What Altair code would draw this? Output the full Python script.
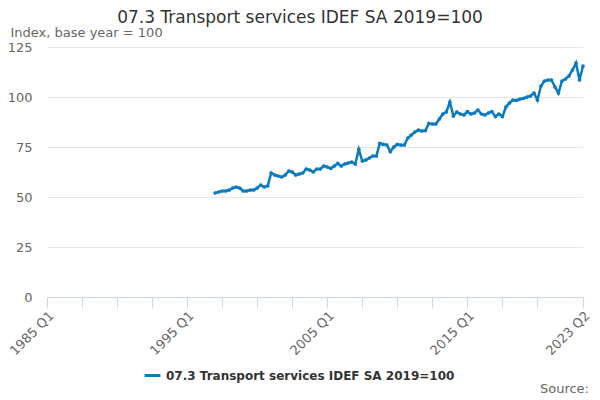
import altair as alt
import pandas as pd

# Quarterly index values, 1997 Q1 .. 2023 Q2
start_year = 1997
values = [
    52, 52.5, 53, 53,            # 1997
    53.5, 54.5, 55, 54.5,        # 1998
    53, 53, 53.5, 53.5,          # 1999
    54.5, 56, 55, 55.5,          # 2000
    62, 61, 60.5, 60,            # 2001
    61, 63, 62.5, 61,            # 2002
    61.5, 62, 64, 63.5,          # 2003
    62.5, 64, 64, 65.5,          # 2004
    65, 64.3, 65.5, 66.8,        # 2005
    65.5, 66.5, 67, 67.5,        # 2006
    66.5, 73.8, 68, 68.5,        # 2007
    69.5, 70.5, 70.5, 76.8,      # 2008
    76.3, 76, 72.7, 75,          # 2009
    76.3, 76, 76, 79.5,          # 2010
    81, 82.5, 83.5, 83,          # 2011
    83.2, 86.8, 86.5, 86.5,      # 2012
    89, 91.5, 92.5, 97.5,        # 2013
    90.5, 92.5, 91.5, 91,        # 2014
    92.7, 91.5, 92, 93.5,        # 2015
    91.5, 91, 92, 92.7,          # 2016
    90.2, 91.5, 90.2, 95,        # 2017
    97, 98.5, 98.3, 99,          # 2018
    99.3, 100, 100.5, 102,       # 2019
    98.5, 105.5, 108, 108.5,     # 2020
    108.5, 105, 102, 108,        # 2021
    109, 110.5, 113.5, 117,      # 2022
    108.5, 115.5,                # 2023
]
quarters = [f"{start_year + i // 4} Q{i % 4 + 1}" for i in range(len(values))]

axis_start_year = 1985
tick_quarters = [0, 10, 20, 30, 40, 50, 60, 70, 80, 90, 100, 110, 120, 130, 140, 153]
label_quarters = [0, 40, 80, 120, 153]
label_texts = ["1985 Q1", "1995 Q1", "2005 Q1", "2015 Q1", "2023 Q2"]
y_ticks = [0, 25, 50, 75, 100, 125]

series_name = "07.3 Transport services IDEF SA 2019=100"

def q_index(label):
    y, q = label.split(" Q")
    return (int(y) - axis_start_year) * 4 + int(q) - 1

df = pd.DataFrame({
    "quarter": quarters,
    "idx": [q_index(q) for q in quarters],
    "value": values,
    "series": series_name,
})

label_expr = ""
for qv, txt in zip(label_quarters, label_texts):
    label_expr += f"datum.value == {qv} ? '{txt}' : "
label_expr += "''"

FONT = "DejaVu Sans"
BLUE = "#0b7bc1"

line = alt.Chart(df).mark_line(
    strokeWidth=2.5,
    point=alt.OverlayMarkDef(filled=True, size=14, color=BLUE),
).encode(
    x=alt.X("idx:Q",
            scale=alt.Scale(domain=[0, 153], nice=False, zero=False),
            axis=alt.Axis(values=tick_quarters, labelExpr=label_expr, title=None,
                          grid=False, domainColor="#ccd6eb", tickColor="#ccd6eb",
                          tickSize=10, labelAngle=315, labelAlign="right",
                          labelBaseline="top", labelFontSize=13, labelColor="#666666",
                          labelFont=FONT, labelPadding=2, labelOverlap=False,
                          labelFlush=False)),
    y=alt.Y("value:Q",
            scale=alt.Scale(domain=[0, 125], nice=False),
            axis=alt.Axis(values=y_ticks, title="Index, base year = 100",
                          titleAngle=0, titleAlign="left", titleBaseline="middle",
                          titleX=-37, titleY=-15, titleFontSize=13,
                          titleFontWeight="normal", titleColor="#666666", titleFont=FONT,
                          grid=True, gridColor="#e6e6e6", domain=False, ticks=False,
                          labelFontSize=13, labelColor="#666666", labelFont=FONT,
                          labelPadding=15)),
    color=alt.Color("series:N",
                    scale=alt.Scale(range=[BLUE]),
                    legend=alt.Legend(title=None, orient="none", legendX=96, legendY=319,
                                      symbolType="stroke", symbolStrokeWidth=3,
                                      symbolSize=250, labelFontSize=12,
                                      labelFontWeight="bold", labelColor="#333333",
                                      labelFont=FONT, labelLimit=500)),
)

source = alt.Chart(pd.DataFrame({"t": ["Source:"]})).mark_text(
    align="right", baseline="middle", fontSize=13, color="#666666", font=FONT
).encode(text="t:N", x=alt.value(542), y=alt.value(342))

chart = alt.layer(line, source).properties(
    width=536,
    height=250,
    padding={"left": 39, "top": 39, "right": 9, "bottom": 103},
    autosize=alt.AutoSizeParams(type="none"),
    title=alt.TitleParams(series_name, fontSize=17, font=FONT, fontWeight="normal",
                          color="#333333", anchor="middle", dx=-15, offset=-1),
).configure_view(stroke=None)

chart.save("out.html", embed_options={"renderer": "svg", "actions": False})
